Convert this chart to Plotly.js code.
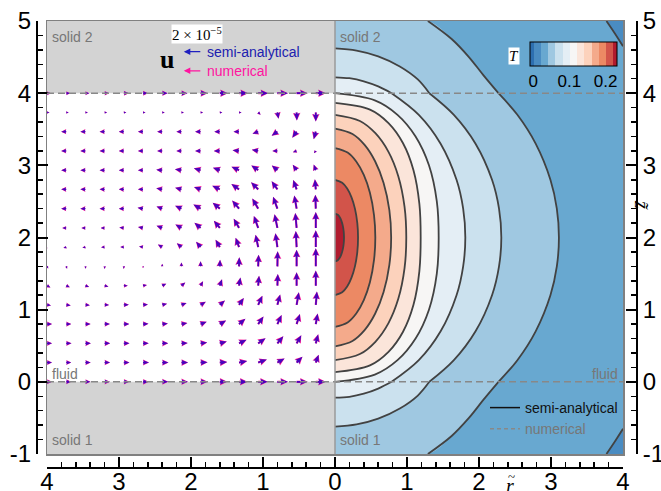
<!DOCTYPE html>
<html><head><meta charset="utf-8">
<script src="https://cdn.plot.ly/plotly-3.0.1.min.js"></script>
<style>html,body{margin:0;padding:0;background:#fff}</style>
</head><body><div id="chart" style="width:661px;height:491px"></div>
<script>
// ---------------- data ----------------
// Temperature contour lines T(r, z) of the right half (top end -> bottom end)
const isoLevels = [0.04, 0.06, 0.08, 0.10, 0.12, 0.14, 0.16, 0.18, 0.20, 0.22];
const isoR = [
  [1.29, 1.62, 1.86, 2.06, 2.27, 2.533, 2.787, 2.992, 3.081, 3.11, 3.081, 2.992, 2.787, 2.533, 2.27, 2.06, 1.86, 1.62, 1.29],
  [0, 0.3, 0.6, 0.9, 1.15, 1.31, 1.651, 1.952, 2.181, 2.278, 2.31, 2.278, 2.181, 1.952, 1.651, 1.31, 1.15, 0.9, 0.6, 0.3, 0],
  [0, 0.2, 0.4, 0.6, 0.786, 1.164, 1.467, 1.688, 1.78, 1.81, 1.78, 1.688, 1.467, 1.164, 0.786, 0.6, 0.4, 0.2, 0],
  [0, 0.553, 0.868, 1.119, 1.305, 1.414, 1.44, 1.414, 1.305, 1.119, 0.868, 0.553, 0],
  [0, 0.486, 0.743, 0.945, 1.090, 1.172, 1.19, 1.172, 1.090, 0.945, 0.743, 0.486, 0],
  [0, 0.346, 0.561, 0.741, 0.879, 0.966, 0.99, 0.966, 0.879, 0.741, 0.561, 0.346, 0],
  [0, 0.243, 0.411, 0.557, 0.675, 0.755, 0.78, 0.755, 0.675, 0.557, 0.411, 0.243, 0],
  [0, 0.175, 0.295, 0.400, 0.485, 0.542, 0.56, 0.542, 0.485, 0.400, 0.295, 0.175, 0],
  [0, 0.100, 0.169, 0.228, 0.277, 0.310, 0.32, 0.310, 0.277, 0.228, 0.169, 0.100, 0],
  [0, 0.039, 0.066, 0.089, 0.108, 0.121, 0.125, 0.121, 0.108, 0.089, 0.066, 0.039, 0]
];
const isoZ = [
  [5.0, 4.75, 4.5, 4.25, 4.0, 3.7, 3.3, 2.8, 2.4, 2.0, 1.6, 1.2, 0.7, 0.3, 0.0, -0.25, -0.5, -0.75, -1.0],
  [4.62, 4.59, 4.51, 4.37, 4.19, 4.0, 3.7, 3.3, 2.8, 2.4, 2.0, 1.6, 1.2, 0.7, 0.3, 0.0, -0.19, -0.37, -0.51, -0.59, -0.62],
  [4.22, 4.207, 4.165, 4.094, 4.0, 3.7, 3.3, 2.8, 2.4, 2.0, 1.6, 1.2, 0.7, 0.3, 0.0, -0.094, -0.165, -0.207, -0.22],
  [4.0, 3.9, 3.7, 3.4, 3.0, 2.5, 2.0, 1.5, 1.0, 0.6, 0.3, 0.1, 0.0],
  [3.865, 3.772, 3.585, 3.306, 2.933, 2.466, 2.0, 1.534, 1.067, 0.694, 0.415, 0.228, 0.135],
  [3.70, 3.615, 3.445, 3.19, 2.85, 2.425, 2.0, 1.575, 1.15, 0.81, 0.555, 0.385, 0.30],
  [3.51, 3.435, 3.284, 3.057, 2.755, 2.378, 2.0, 1.622, 1.245, 0.943, 0.716, 0.566, 0.49],
  [3.24, 3.178, 3.054, 2.868, 2.62, 2.31, 2.0, 1.69, 1.38, 1.132, 0.946, 0.822, 0.76],
  [2.8, 2.76, 2.68, 2.56, 2.4, 2.2, 2.0, 1.8, 1.6, 1.44, 1.32, 1.24, 1.2],
  [2.33, 2.314, 2.281, 2.231, 2.165, 2.083, 2.0, 1.917, 1.835, 1.769, 1.719, 1.686, 1.67]
];
// T = 0.02 contour in the two right-hand corners
const cornerTopR = [3.77, 3.885, 4.0], cornerTopZ = [5.0, 4.83, 4.65];
const cornerBotR = [3.77, 3.885, 4.0], cornerBotZ = [-1.0, -0.83, -0.65];
const levelStart = 0, levelEnd = 0.22, levelStep = 0.02;
// band colours: below 0, 0-0.02, 0.02-0.04, ..., above 0.22
const bandColors = ['#2d6fb0', '#4a8cc2', '#68a8d0', '#9fc8e1', '#cbe1ee', '#e4eef5', '#f7f6f5',
                    '#fbe5da', '#fcd2bc', '#f4aa8b', '#ec8964', '#d2544a', '#b01b2e'];
const cbTickVals = [0, 0.1, 0.2];
const cbTickText = ['0', '0.1', '0.2'];
const interfaces = [0, 4];

// velocity field u (left half), units of 1e-5; ur > 0 points away from the axis
const arrowR = [4, 3.733, 3.467, 3.2, 2.933, 2.667, 2.4, 2.133, 1.867, 1.6, 1.333, 1.067, 0.8, 0.533, 0.267];
const arrowZ = [0, 0.267, 0.533, 0.8, 1.067, 1.333, 1.6, 1.867, 2.133, 2.4, 2.667, 2.933, 3.2, 3.467, 3.733, 4];
const velR = [
  [-0.56, -0.56, -0.56, -0.59, -0.61, -0.63, -0.67, -0.72, -0.78, -0.83, -0.94, -1.06, -1.17, -1.22, -1.11],
  [-0.56, -0.56, -0.59, -0.61, -0.63, -0.67, -0.70, -0.74, -0.78, -0.83, -0.91, -0.97, -0.80, -0.65, -0.32],
  [-0.56, -0.59, -0.61, -0.62, -0.63, -0.64, -0.67, -0.70, -0.74, -0.78, -0.84, -0.82, -0.66, -0.52, -0.27],
  [-0.56, -0.56, -0.58, -0.59, -0.61, -0.61, -0.63, -0.66, -0.68, -0.70, -0.71, -0.59, -0.47, -0.37, -0.21],
  [-0.44, -0.50, -0.50, -0.50, -0.56, -0.55, -0.54, -0.57, -0.58, -0.57, -0.53, -0.47, -0.31, -0.25, -0.13],
  [-0.38, -0.40, -0.42, -0.43, -0.44, -0.44, -0.45, -0.43, -0.28, -0.25, -0.16, -0.10, -0.05, 0, 0],
  [-0.14, -0.10, -0.05, -0.02, 0, 0, 0, 0, 0, -0.03, -0.03, -0.05, -0.03, 0, 0],
  [0.33, 0.31, 0.33, 0.39, 0.39, 0.44, 0.48, 0.51, 0.50, 0.47, 0.38, 0.29, 0.22, 0.09, 0],
  [0.44, 0.44, 0.44, 0.44, 0.50, 0.55, 0.63, 0.67, 0.68, 0.66, 0.59, 0.48, 0.32, 0.15, 0],
  [0.56, 0.56, 0.56, 0.56, 0.56, 0.60, 0.63, 0.70, 0.80, 0.79, 0.76, 0.65, 0.48, 0.26, 0.05],
  [0.56, 0.56, 0.56, 0.56, 0.56, 0.56, 0.66, 0.70, 0.73, 0.84, 0.85, 0.79, 0.64, 0.38, 0.10],
  [0.56, 0.56, 0.56, 0.56, 0.56, 0.56, 0.66, 0.72, 0.75, 0.76, 0.84, 0.76, 0.62, 0.43, 0.23],
  [0.56, 0.56, 0.56, 0.56, 0.56, 0.56, 0.56, 0.56, 0.61, 0.67, 0.72, 0.71, 0.56, 0.42, 0.21],
  [0.56, 0.56, 0.56, 0.56, 0.56, 0.56, 0.56, 0.56, 0.61, 0.61, 0.61, 0.63, 0.64, 0.48, 0.23],
  [-0.28, -0.28, -0.28, -0.28, -0.28, -0.28, -0.28, -0.28, -0.28, -0.28, -0.28, -0.27, -0.13, -0.03, 0],
  [-0.44, -0.44, -0.44, -0.50, -0.56, -0.56, -0.61, -0.67, -0.78, -0.89, -1.00, -1.11, -1.17, -1.22, -1.11]
];
const velZ = [
  [0, 0, 0, 0, 0, 0, 0, 0, 0, 0, 0, 0, 0, 0, 0],
  [0, 0, 0, 0, 0, 0, 0, 0, 0.04, 0.07, 0.16, 0.35, 0.46, 0.65, 0.87],
  [0, 0, 0, 0, 0, 0, 0, 0.04, 0.10, 0.21, 0.39, 0.57, 0.79, 0.89, 1.00],
  [0, 0, 0, 0, 0.02, 0.04, 0.08, 0.12, 0.25, 0.41, 0.59, 0.85, 1.01, 1.13, 1.17],
  [-0.08, -0.07, -0.04, -0.02, 0, 0.05, 0.12, 0.21, 0.33, 0.48, 0.76, 1.01, 1.15, 1.39, 1.47],
  [-0.22, -0.19, -0.15, -0.12, 0, 0.08, 0.21, 0.36, 0.48, 0.70, 0.91, 1.11, 1.30, 1.48, 1.67],
  [-0.24, -0.26, -0.27, -0.28, -0.28, -0.22, 0.28, 0.44, 0.56, 0.74, 1.00, 1.30, 1.67, 1.86, 2.00],
  [-0.06, -0.11, -0.06, -0.03, 0, 0.08, 0.28, 0.43, 0.60, 0.82, 1.04, 1.38, 1.54, 1.78, 1.86],
  [0, 0, 0, 0, 0.04, 0.10, 0.23, 0.39, 0.57, 0.79, 1.03, 1.33, 1.52, 1.66, 1.78],
  [0, 0, 0, 0, 0, 0.11, 0.23, 0.33, 0.46, 0.66, 0.91, 1.13, 1.33, 1.46, 1.55],
  [0, 0, 0, 0, 0, 0, 0.12, 0.19, 0.27, 0.39, 0.59, 0.79, 0.91, 1.04, 1.11],
  [0, 0, 0, 0, 0, 0, 0.06, 0.10, 0.20, 0.28, 0.39, 0.53, 0.52, 0.61, 0.63],
  [0, 0, 0, 0, 0, 0, 0, 0, 0, 0, 0.06, 0.13, 0, -0.15, -0.26],
  [0, 0, 0, 0, 0, 0, 0, 0, 0, 0, 0, -0.23, -0.45, -0.68, -0.86],
  [0, 0, 0, 0, 0, 0, 0, 0, 0, 0, 0, -0.27, -0.71, -0.89, -1.00],
  [0, 0, 0, 0, 0, 0, 0, 0, 0, 0, 0, 0, 0, 0, 0]
];

// axis ticks
const xTickVals = [-4, -3, -2, -1, 0, 1, 2, 3, 4];
const xTickText = ['4', '3', '2', '1', '0', '1', '2', '3', '4'];
const yTickVals = [-1, 0, 1, 2, 3, 4, 5];
const yTickText = ['-1', '0', '1', '2', '3', '4', '5'];

// ---------------- geometry / style ----------------
const W = 661, H = 491;
const PL = 47, PR = 623, PT = 21, PB = 454;
const XD = [PL / W, PR / W], YD = [(H - PB) / H, (H - PT) / H];
const PXX = (PR - PL) / 8, PXY = (PB - PT) / 6;
const VEL_PX = 9;           // px per 1e-5
const SHAFT_W = 1.6, HEAD_W = 5.6, HEAD_L = 7.5, HEAD_AXL = 6.5;
const FONT = 'Liberation Sans, Arial, sans-serif';
const SERIF = 'Liberation Serif, Times New Roman, serif';
const LINE_COL = '#424242';

function minorVals(a, b) {
  const out = [];
  for (let i = Math.round(a * 5); i <= Math.round(b * 5); i++) if (i % 5 !== 0) out.push(i / 5);
  return out;
}
function bandColor(level) { return bandColors[Math.round((level - levelStart) / levelStep) + 1]; }

function arrowPolys(widthScale) {
  const xs = [], ys = [];
  for (let j = 0; j < arrowZ.length; j++) {
    for (let k = 0; k < arrowR.length; k++) {
      const dx = -velR[j][k] * VEL_PX, dy = velZ[j][k] * VEL_PX;
      const L = Math.hypot(dx, dy);
      if (L < 0.3) continue;
      const ex = dx / L, ey = dy / L, nx = -ey, ny = ex;
      const f = L < HEAD_L ? L / HEAD_L : 1;
      const w = SHAFT_W * f * widthScale / 2, hw = HEAD_W * f * widthScale / 2;
      const hl = HEAD_L * f, hal = HEAD_AXL * f;
      const pts = [[0, -w], [L - hal, -w], [L - hl, -hw], [L, 0], [L - hl, hw], [L - hal, w], [0, w], [0, -w]];
      const x0 = -arrowR[k], y0 = arrowZ[j];
      for (const p of pts) {
        xs.push(x0 + (p[0] * ex + p[1] * nx) / PXX);
        ys.push(y0 + (p[0] * ey + p[1] * ny) / PXY);
      }
      xs.push(null); ys.push(null);
    }
  }
  return {xs, ys};
}

// ---------------- traces ----------------
const traces = [];
const fillTrace = (xs, ys, color) => ({type: 'scatter', mode: 'lines', x: xs, y: ys, fill: 'toself', fillcolor: color,
  line: {width: 0, shape: 'spline', smoothing: 1, color: color}, hoverinfo: 'skip', showlegend: false});

// T < 0.02 corners
traces.push(fillTrace(cornerTopR.concat([4]), cornerTopZ.concat([5]), bandColors[1]));
traces.push(fillTrace(cornerBotR.concat([4]), cornerBotZ.concat([-1]), bandColors[1]));
// bands, outermost first; regions are closed along the axis r = 0
isoLevels.forEach((lev, i) => {
  const r = isoR[i], z = isoZ[i];
  let xs = r.slice(), ys = z.slice();
  if (r[0] !== 0) { xs.unshift(0); ys.unshift(z[0]); }
  if (r[r.length - 1] !== 0) { xs.push(0); ys.push(z[z.length - 1]); }
  traces.push(fillTrace(xs, ys, bandColor(lev)));
});
// contour lines (split at the fluid/solid interfaces so the kinks stay sharp)
const lx = [], ly = [];
function addLine(r, z) {
  for (let m = 0; m < r.length; m++) {
    lx.push(r[m]); ly.push(z[m]);
    if (m > 0 && m < r.length - 1 && interfaces.includes(z[m])) { lx.push(null, r[m]); ly.push(null, z[m]); }
  }
  lx.push(null); ly.push(null);
}
isoLevels.forEach((lev, i) => addLine(isoR[i], isoZ[i]));
addLine(cornerTopR, cornerTopZ);
addLine(cornerBotR, cornerBotZ);
traces.push({type: 'scatter', mode: 'lines', x: lx, y: ly, line: {color: LINE_COL, width: 1.8, shape: 'spline', smoothing: 1},
  hoverinfo: 'skip', showlegend: false});

// colour bar of the banded T scale
const edges = [levelStart - levelStep / 2];
for (let k = 0; k < bandColors.length - 1; k++) edges.push(levelStart + k * levelStep);
edges.push(levelEnd + levelStep / 2);
const eMin = edges[0], eMax = edges[edges.length - 1];
const stepScale = [];
bandColors.forEach((c, k) => {
  stepScale.push([(edges[k] - eMin) / (eMax - eMin), c]);
  stepScale.push([(edges[k + 1] - eMin) / (eMax - eMin), c]);
});
traces.push({type: 'scatter', mode: 'markers', x: isoLevels.map(() => null), y: isoLevels.map(() => null),
  marker: {color: isoLevels, colorscale: stepScale, cmin: eMin, cmax: eMax, showscale: true,
    colorbar: {orientation: 'h', x: 573 / W, xanchor: 'center', y: (H - 42.3) / H, yanchor: 'top',
      len: 86.6, lenmode: 'pixels', thickness: 24.4, thicknessmode: 'pixels', xpad: 0, ypad: 0,
      outlinewidth: 1, outlinecolor: '#000', bgcolor: 'rgba(0,0,0,0)',
      tickmode: 'array', tickvals: cbTickVals, ticktext: cbTickText, ticks: '',
      tickfont: {family: FONT, size: 17, color: '#000'}}},
  hoverinfo: 'skip', showlegend: false});

// velocity arrows: numerical (magenta) under semi-analytical (blue)
const numArrows = arrowPolys(1.35);
const anaArrows = arrowPolys(1.0);
traces.push({type: 'scatter', mode: 'lines', x: numArrows.xs, y: numArrows.ys, fill: 'toself', fillcolor: '#ff1493',
  line: {width: 0, color: '#ff1493'}, hoverinfo: 'skip', showlegend: false});
traces.push({type: 'scatter', mode: 'lines', x: anaArrows.xs, y: anaArrows.ys, fill: 'toself', fillcolor: 'rgba(0,0,205,0.72)',
  line: {width: 0, color: 'rgba(0,0,205,0.72)'}, hoverinfo: 'skip', showlegend: false});

// legend entries for the temperature contours
traces.push({type: 'scatter', mode: 'lines', x: [null], y: [null], name: 'semi-analytical', line: {color: '#111', width: 1.5}});
traces.push({type: 'scatter', mode: 'lines', x: [null], y: [null], name: '<span style="color:#777">numerical</span>',
  line: {color: '#888', width: 1.5, dash: '4px,3px'}});
// carriers for the offset display axes
traces.push({type: 'scatter', x: [null], y: [null], xaxis: 'x2', yaxis: 'y', showlegend: false, hoverinfo: 'skip'});
traces.push({type: 'scatter', x: [null], y: [null], xaxis: 'x', yaxis: 'y2', showlegend: false, hoverinfo: 'skip'});
traces.push({type: 'scatter', x: [null], y: [null], xaxis: 'x', yaxis: 'y3', showlegend: false, hoverinfo: 'skip'});

const dispAxis = {
  showgrid: false, zeroline: false, showline: true, linecolor: '#000', linewidth: 2,
  ticks: 'inside', ticklen: 10, tickwidth: 2, tickcolor: '#000', tickmode: 'array',
  tickfont: {family: FONT, size: 24, color: '#000'}, fixedrange: true
};
const minorX = {tickmode: 'array', tickvals: minorVals(-4, 4), ticks: 'inside', ticklen: 5, tickwidth: 1.5, tickcolor: '#000'};
const minorY = {tickmode: 'array', tickvals: minorVals(-1, 5), ticks: 'inside', ticklen: 5, tickwidth: 1.5, tickcolor: '#000'};
const grayText = {family: FONT, size: 14, color: '#777'};

const layout = {
  width: W, height: H, margin: {l: 0, r: 0, t: 0, b: 0},
  paper_bgcolor: '#fff', plot_bgcolor: '#fff', hovermode: false,
  showlegend: true,
  legend: {x: 485 / W, xanchor: 'left', y: (H - 392) / H, yanchor: 'top', bgcolor: 'rgba(0,0,0,0)',
    font: {family: FONT, size: 14, color: '#111'}, tracegroupgap: 0, itemwidth: 30},
  xaxis: {domain: XD, range: [-4, 4], showgrid: false, zeroline: false, showticklabels: false, ticks: '',
    showline: true, mirror: true, linecolor: '#808080', linewidth: 1.5, fixedrange: true},
  yaxis: {domain: YD, range: [-1, 5], showgrid: false, zeroline: false, showticklabels: false, ticks: '',
    showline: true, mirror: true, linecolor: '#808080', linewidth: 1.5, fixedrange: true},
  xaxis2: Object.assign({}, dispAxis, {overlaying: 'x', anchor: 'free', position: (H - 468) / H, side: 'bottom',
    range: [-4, 4], tickvals: xTickVals, ticktext: xTickText, ticklabelstandoff: -8, minor: minorX}),
  yaxis2: Object.assign({}, dispAxis, {overlaying: 'y', anchor: 'free', position: 37 / W, side: 'left',
    range: [-1, 5], tickvals: yTickVals, ticktext: yTickText, minor: minorY}),
  yaxis3: Object.assign({}, dispAxis, {overlaying: 'y', anchor: 'free', position: 637 / W, side: 'right',
    range: [-1, 5], tickvals: yTickVals, ticktext: yTickText, minor: minorY}),
  shapes: [
    {type: 'rect', xref: 'x', yref: 'y', x0: 0, x1: 4, y0: -1, y1: 5, fillcolor: bandColors[2], line: {width: 0}, layer: 'below'},
    {type: 'rect', xref: 'x', yref: 'y', x0: -4, x1: 0, y0: 4, y1: 5, fillcolor: '#d3d3d3', line: {width: 0}, layer: 'below'},
    {type: 'rect', xref: 'x', yref: 'y', x0: -4, x1: 0, y0: -1, y1: 0, fillcolor: '#d3d3d3', line: {width: 0}, layer: 'below'},
    {type: 'line', xref: 'x', yref: 'y', x0: -4, x1: 4, y0: 4, y1: 4, line: {color: '#888', width: 1.5, dash: '7px,4px'}},
    {type: 'line', xref: 'x', yref: 'y', x0: -4, x1: 4, y0: 0, y1: 0, line: {color: '#888', width: 1.5, dash: '7px,4px'}},
    {type: 'line', xref: 'x', yref: 'y', x0: 0, x1: 0, y0: -1, y1: 5, line: {color: '#9a9a9a', width: 1.5}}
  ],
  annotations: [
    {xref: 'x', yref: 'y', x: -3.96, y: 4.78, xanchor: 'left', text: 'solid 2', showarrow: false, font: grayText},
    {xref: 'x', yref: 'y', x: 0.04, y: 4.78, xanchor: 'left', text: 'solid 2', showarrow: false, font: grayText},
    {xref: 'x', yref: 'y', x: -3.96, y: -0.80, xanchor: 'left', text: 'solid 1', showarrow: false, font: grayText},
    {xref: 'x', yref: 'y', x: 0.04, y: -0.80, xanchor: 'left', text: 'solid 1', showarrow: false, font: grayText},
    {xref: 'x', yref: 'y', x: -3.96, y: 0.11, xanchor: 'left', text: 'fluid', showarrow: false, font: grayText},
    {xref: 'x', yref: 'y', x: 3.96, y: 0.11, xanchor: 'right', text: 'fluid', showarrow: false, font: grayText},
    {xref: 'x', yref: 'y', x: -1.91, y: 4.82, text: '2 × 10<sup>−5</sup>', showarrow: false, bgcolor: '#fff', borderpad: 0,
      font: {family: SERIF, size: 15, color: '#000'}},
    {xref: 'x', yref: 'y', x: -2.33, y: 4.47, text: '<b>u</b>', showarrow: false, font: {family: SERIF, size: 26, color: '#000'}},
    {xref: 'x', yref: 'y', x: -2.10, y: 4.575, axref: 'x', ayref: 'y', ax: -1.85, ay: 4.575, text: '', showarrow: true,
      arrowhead: 2, arrowsize: 1, arrowwidth: 1.3, arrowcolor: '#2020c0'},
    {xref: 'x', yref: 'y', x: -2.10, y: 4.31, axref: 'x', ayref: 'y', ax: -1.85, ay: 4.31, text: '', showarrow: true,
      arrowhead: 2, arrowsize: 1, arrowwidth: 1.3, arrowcolor: '#ff14a0'},
    {xref: 'x', yref: 'y', x: -1.80, y: 4.575, xanchor: 'left', text: 'semi-analytical', showarrow: false, font: {family: FONT, size: 14, color: '#2020b0'}},
    {xref: 'x', yref: 'y', x: -1.80, y: 4.31, xanchor: 'left', text: 'numerical', showarrow: false, font: {family: FONT, size: 14, color: '#ff14a0'}},
    {xref: 'x', yref: 'y', x: 2.49, y: 4.52, text: '<i>T</i>', showarrow: false, bgcolor: '#fff', borderpad: 0,
      font: {family: SERIF, size: 15, color: '#000'}},
    {xref: 'x', yref: 'paper', x: 2.43, y: (H - 486) / H, yanchor: 'middle', text: '<i>r</i>', showarrow: false,
      font: {family: SERIF, size: 20, color: '#000'}},
    {xref: 'x', yref: 'paper', x: 2.445, y: (H - 476) / H, yanchor: 'middle', text: '~', showarrow: false,
      font: {family: SERIF, size: 13, color: '#000'}},
    {xref: 'paper', yref: 'y', x: 655 / W, y: 2.45, text: '<i>z\u0303</i>', showarrow: false, textangle: 90,
      font: {family: SERIF, size: 20, color: '#000'}}
  ]
};

Plotly.newPlot('chart', traces, layout, {displayModeBar: false, staticPlot: true});
</script></body></html>
